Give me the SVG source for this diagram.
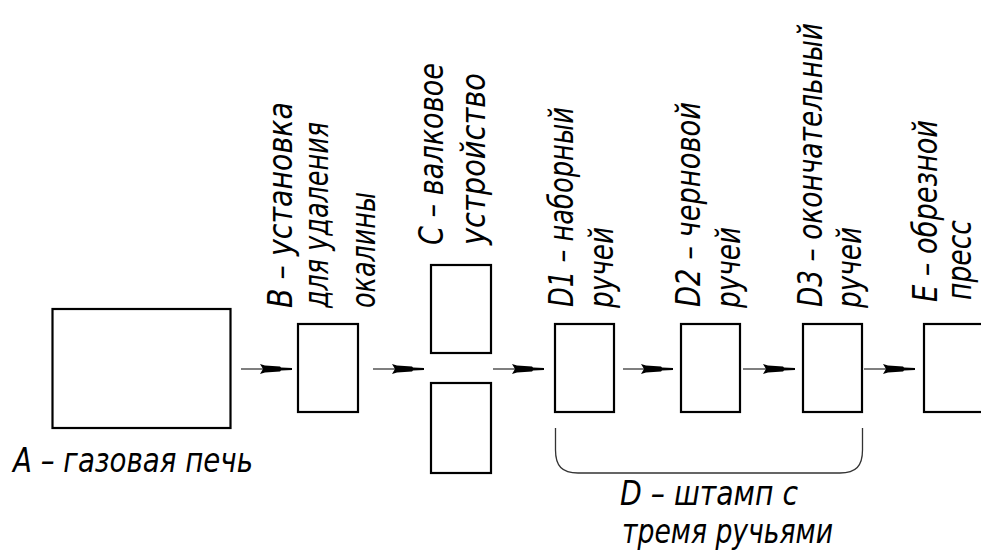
<svg xmlns="http://www.w3.org/2000/svg" width="981" height="552" viewBox="0 0 981 552">
<style>
  .box{fill:#fff;stroke:#000;stroke-width:2.2}
  .ln{stroke:#555;stroke-width:1.4;fill:none}
  .br{stroke:#333;stroke-width:1.3;fill:none}
  .ah{fill:#000}
  text{font-family:"DejaVu Sans","Liberation Sans",sans-serif;font-style:italic;font-weight:normal;font-size:33px;fill:#000}
</style>
<defs>
  <path id="ah" class="ah" d="M-2,-5 L3,-3.5 L18,-2.6 L19,-1.4 L30,-1.1 L30,1.1 L19,1.4 L18,2.6 L3,3.5 L-2,5 L1,0 Z"/>
</defs>
<rect width="981" height="552" fill="#fff"/>

<g id="connectors">
  <line class="ln" x1="241" y1="369" x2="292" y2="369"/><use href="#ah" x="262" y="369"/>
  <line class="ln" x1="373" y1="369" x2="424" y2="369"/><use href="#ah" x="394" y="369"/>
  <line class="ln" x1="493" y1="369" x2="544" y2="369"/><use href="#ah" x="514" y="369"/>
  <line class="ln" x1="623" y1="369" x2="673" y2="369"/><use href="#ah" x="643" y="369"/>
  <line class="ln" x1="743" y1="369" x2="794" y2="369"/><use href="#ah" x="765" y="369"/>
  <line class="ln" x1="864" y1="369" x2="915" y2="369"/><use href="#ah" x="885" y="369"/>
  <path id="brace" class="br" d="M555.5,428 V450 C555.5,466 562,473 578,473 H840 C856,473 862.5,466 862.5,450 V428"/>
</g>

<g id="nodeA">
  <rect class="box" x="52.5" y="309" width="178" height="119"/>
  <text x="13" y="472" textLength="240" lengthAdjust="spacingAndGlyphs">A – газовая печь</text>
</g>

<g id="nodeB">
  <rect class="box" x="298" y="324" width="60" height="88"/>
  <text transform="translate(292,308) rotate(-90)" textLength="206" lengthAdjust="spacingAndGlyphs">B – установка</text>
  <text transform="translate(328,308) rotate(-90)" textLength="186" lengthAdjust="spacingAndGlyphs">для удаления</text>
  <text transform="translate(375,308) rotate(-90)" textLength="116" lengthAdjust="spacingAndGlyphs">окалины</text>
</g>

<g id="nodeC">
  <rect class="box" x="431" y="265" width="60" height="88"/>
  <rect class="box" x="431" y="383" width="60" height="90"/>
  <text transform="translate(443,245) rotate(-90)" textLength="182" lengthAdjust="spacingAndGlyphs">C – валковое</text>
  <text transform="translate(485,245) rotate(-90)" textLength="172" lengthAdjust="spacingAndGlyphs">устройство</text>
</g>

<g id="nodeD1">
  <rect class="box" x="555" y="324" width="59" height="88"/>
  <text transform="translate(573,307) rotate(-90)" textLength="200" lengthAdjust="spacingAndGlyphs">D1 – наборный</text>
  <text transform="translate(613,308) rotate(-90)" textLength="81" lengthAdjust="spacingAndGlyphs">ручей</text>
</g>

<g id="nodeD2">
  <rect class="box" x="681" y="324" width="59" height="88"/>
  <text transform="translate(700,307) rotate(-90)" textLength="205" lengthAdjust="spacingAndGlyphs">D2 – черновой</text>
  <text transform="translate(740,308) rotate(-90)" textLength="81" lengthAdjust="spacingAndGlyphs">ручей</text>
</g>

<g id="nodeD3">
  <rect class="box" x="803" y="324" width="59" height="88"/>
  <text transform="translate(822,307) rotate(-90)" textLength="284" lengthAdjust="spacingAndGlyphs">D3 – окончательный</text>
  <text transform="translate(861,308) rotate(-90)" textLength="81" lengthAdjust="spacingAndGlyphs">ручей</text>
</g>

<g id="nodeE">
  <rect class="box" x="924" y="324" width="70" height="88"/>
  <text transform="translate(937,302) rotate(-90)" textLength="182" lengthAdjust="spacingAndGlyphs">E – обрезной</text>
  <text transform="translate(971,300) rotate(-90)" textLength="80" lengthAdjust="spacingAndGlyphs">пресс</text>
</g>

<g id="nodeD">
  <text x="620" y="505" textLength="178" lengthAdjust="spacingAndGlyphs">D – штамп с</text>
  <text x="622" y="543" textLength="211" lengthAdjust="spacingAndGlyphs">тремя ручьями</text>
</g>
</svg>
